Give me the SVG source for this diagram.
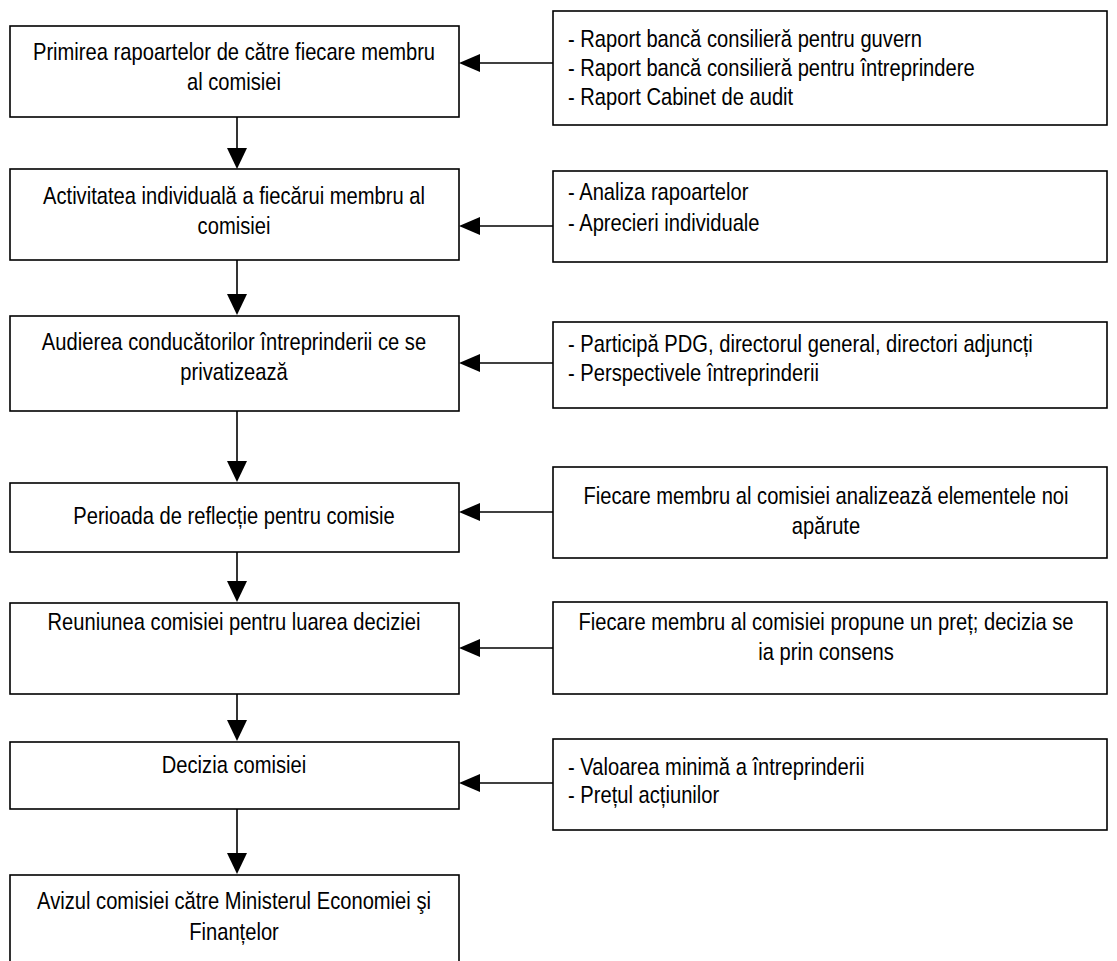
<svg xmlns="http://www.w3.org/2000/svg" width="1117" height="961" viewBox="0 0 1117 961">
<style>
.box{fill:#fff;stroke:#000;stroke-width:1.6}
.ln{fill:none;stroke:#000;stroke-width:1.6}
.ah{fill:#000;stroke:none}
text{font-family:"Liberation Sans",Arial,sans-serif;font-size:24px;fill:#000}
.c{text-anchor:middle}
</style>
<rect width="1117" height="961" fill="#fff"/>
<g id="connectors">
<line class="ln" x1="237" y1="117" x2="237" y2="150"/><polygon class="ah" points="227,148 247,148 237,169"/>
<line class="ln" x1="237" y1="260" x2="237" y2="296"/><polygon class="ah" points="227,294 247,294 237,315"/>
<line class="ln" x1="237" y1="411" x2="237" y2="463"/><polygon class="ah" points="227,461 247,461 237,482"/>
<line class="ln" x1="237" y1="552" x2="237" y2="583"/><polygon class="ah" points="227,581 247,581 237,602"/>
<line class="ln" x1="237" y1="694" x2="237" y2="722"/><polygon class="ah" points="227,720 247,720 237,741"/>
<line class="ln" x1="237" y1="809" x2="237" y2="855"/><polygon class="ah" points="227,853 247,853 237,874"/>
<line class="ln" x1="553" y1="63" x2="478" y2="63"/><polygon class="ah" points="480,54 480,72 459,63"/>
<line class="ln" x1="553" y1="226" x2="478" y2="226"/><polygon class="ah" points="480,217 480,235 459,226"/>
<line class="ln" x1="553" y1="363" x2="478" y2="363"/><polygon class="ah" points="480,354 480,372 459,363"/>
<line class="ln" x1="553" y1="512" x2="478" y2="512"/><polygon class="ah" points="480,503 480,521 459,512"/>
<line class="ln" x1="553" y1="648" x2="478" y2="648"/><polygon class="ah" points="480,639 480,657 459,648"/>
<line class="ln" x1="553" y1="783" x2="478" y2="783"/><polygon class="ah" points="480,774 480,792 459,783"/>
</g>
<g id="n1"><rect class="box" x="10" y="26" width="449" height="91"/>
<text class="c" transform="translate(234 60) scale(0.84 1)">Primirea rapoartelor de către fiecare membru</text>
<text class="c" transform="translate(234 90) scale(0.84 1)">al comisiei</text></g>
<g id="n2"><rect class="box" x="10" y="169" width="449" height="91"/>
<text class="c" transform="translate(234 204) scale(0.84 1)">Activitatea individuală a fiecărui membru al</text>
<text class="c" transform="translate(234 234) scale(0.84 1)">comisiei</text></g>
<g id="n3"><rect class="box" x="10" y="316" width="449" height="95"/>
<text class="c" transform="translate(234 350) scale(0.84 1)">Audierea conducătorilor întreprinderii ce se</text>
<text class="c" transform="translate(234 380) scale(0.84 1)">privatizează</text></g>
<g id="n4"><rect class="box" x="10" y="483" width="449" height="69"/>
<text class="c" transform="translate(234 524) scale(0.84 1)">Perioada de reflecție pentru comisie</text></g>
<g id="n5"><rect class="box" x="10" y="603" width="449" height="91"/>
<text class="c" transform="translate(234 630) scale(0.84 1)">Reuniunea comisiei pentru luarea deciziei</text></g>
<g id="n6"><rect class="box" x="10" y="742" width="449" height="67"/>
<text class="c" transform="translate(234 773) scale(0.84 1)">Decizia comisiei</text></g>
<g id="n7"><rect class="box" x="10" y="875" width="449" height="100"/>
<text class="c" transform="translate(234 909) scale(0.84 1)">Avizul comisiei către Ministerul Economiei şi</text>
<text class="c" transform="translate(234 940) scale(0.84 1)">Finanțelor</text></g>
<g id="r1"><rect class="box" x="553" y="11" width="554" height="114"/>
<text transform="translate(568 47) scale(0.84 1)">- Raport bancă consilieră pentru guvern</text>
<text transform="translate(568 76) scale(0.84 1)">- Raport bancă consilieră pentru întreprindere</text>
<text transform="translate(568 105) scale(0.84 1)">- Raport Cabinet de audit</text></g>
<g id="r2"><rect class="box" x="553" y="171" width="554" height="91"/>
<text transform="translate(568 200) scale(0.84 1)">- Analiza rapoartelor</text>
<text transform="translate(568 231) scale(0.84 1)">- Aprecieri individuale</text></g>
<g id="r3"><rect class="box" x="553" y="322" width="554" height="86"/>
<text transform="translate(568 352) scale(0.84 1)">- Participă PDG, directorul general, directori adjuncți</text>
<text transform="translate(568 381) scale(0.84 1)">- Perspectivele întreprinderii</text></g>
<g id="r4"><rect class="box" x="553" y="467" width="554" height="91"/>
<text class="c" transform="translate(826 504) scale(0.84 1)">Fiecare membru al comisiei analizează elementele noi</text>
<text class="c" transform="translate(826 534) scale(0.84 1)">apărute</text></g>
<g id="r5"><rect class="box" x="553" y="602" width="554" height="92"/>
<text class="c" transform="translate(826 630) scale(0.84 1)">Fiecare membru al comisiei propune un preț; decizia se</text>
<text class="c" transform="translate(826 660) scale(0.84 1)">ia prin consens</text></g>
<g id="r6"><rect class="box" x="553" y="739" width="554" height="91"/>
<text transform="translate(568 775) scale(0.84 1)">- Valoarea minimă a întreprinderii</text>
<text transform="translate(568 803) scale(0.84 1)">- Prețul acțiunilor</text></g>
</svg>
